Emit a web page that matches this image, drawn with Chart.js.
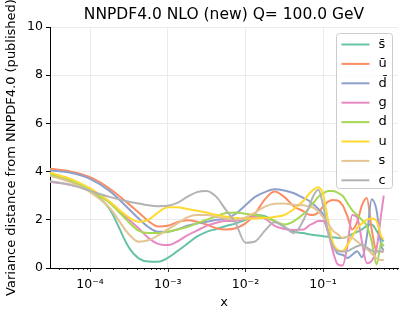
<!DOCTYPE html>
<html>
<head>
<meta charset="utf-8">
<script src="https://cdn.jsdelivr.net/npm/chart.js@4"></script>
<style>
  html, body { margin: 0; padding: 0; background: #fff; }
  #wrap { width: 407px; height: 315px; }
</style>
</head>
<body>
<div id="wrap"><canvas id="chart" width="407" height="315"></canvas></div>
<script>
// x positions (log spaced)
const xValues = [3.05e-5, 5.62e-5, 1.0e-4, 1.78e-4, 3.16e-4, 4.22e-4, 5.62e-4, 7.5e-4, 1.0e-3, 1.33e-3,
  1.78e-3, 2.37e-3, 3.16e-3, 4.22e-3, 5.62e-3, 7.5e-3, 0.01, 0.0133, 0.0178, 0.0237,
  0.0316, 0.0422, 0.0562, 0.0649, 0.075, 0.0866, 0.1, 0.1155, 0.1334, 0.154,
  0.178, 0.205, 0.237, 0.274, 0.316, 0.365, 0.422, 0.487, 0.562, 0.603];

const sbar = [3.88, 3.6, 3.2, 2.45, 0.85, 0.4, 0.27, 0.26, 0.42, 0.7,
  1.0, 1.3, 1.5, 1.62, 1.74, 1.85, 2.0, 2.2, 2.15, 1.95,
  1.7, 1.5, 1.45, 1.4, 1.37, 1.35, 1.32, 1.3, 1.28, 1.25,
  1.24, 1.3, 1.4, 1.5, 1.6, 1.75, 1.8, 1.55, 1.2, 1.1];
const ubar = [4.12, 4.0, 3.77, 3.3, 2.65, 2.3, 1.95, 1.72, 1.75, 1.9,
  1.98, 1.92, 1.8, 1.65, 1.6, 1.65, 1.85, 2.25, 2.85, 3.17,
  2.95, 2.55, 2.35, 2.22, 2.2, 2.3, 2.55, 2.75, 2.82, 2.8,
  2.6, 2.15, 1.6, 1.9, 2.6, 2.9, 1.6, 0.7, 0.68, 0.7];
const dbar = [4.05, 3.95, 3.7, 3.2, 2.45, 2.05, 1.7, 1.5, 1.5, 1.6,
  1.75, 1.85, 1.92, 2.0, 2.05, 2.25, 2.6, 2.95, 3.15, 3.27,
  3.22, 3.1, 2.9, 2.8, 2.65, 2.45, 2.2, 1.55, 0.95, 0.6,
  0.55, 0.42, 0.55, 0.7, 0.45, 1.3, 2.85, 2.4, 0.9, 0.75];
const gluon = [3.58, 3.45, 3.2, 2.75, 2.0, 1.65, 1.25, 1.0, 0.95, 1.1,
  1.35, 1.55, 1.75, 1.88, 1.95, 1.95, 2.05, 2.12, 2.05, 1.75,
  1.62, 1.58, 1.6, 1.75, 1.85, 1.95, 1.95, 1.5, 0.7, 0.15,
  0.1, 0.9, 2.2, 2.1, 1.1, 0.2, 0.3, 0.8, 2.3, 3.0];
const dquark = [3.9, 3.62, 3.2, 2.7, 1.9, 1.55, 1.45, 1.45, 1.5, 1.6,
  1.7, 1.85, 2.0, 2.15, 2.28, 2.3, 2.25, 2.2, 2.1, 1.95,
  1.8, 1.95, 2.25, 2.45, 2.7, 2.95, 3.1, 3.2, 3.2, 3.12,
  3.0, 2.7, 2.4, 2.2, 2.0, 1.75, 1.1, 0.15, 1.05, 0.9];
const uquark = [3.95, 3.7, 3.3, 2.75, 2.1, 1.92, 2.0, 2.3, 2.52, 2.52,
  2.45, 2.38, 2.3, 2.2, 2.13, 2.08, 2.05, 2.05, 2.08, 2.12,
  2.2, 2.45, 2.8, 3.05, 3.25, 3.35, 3.05, 2.0, 1.05, 0.75,
  0.7, 0.95, 1.3, 1.65, 1.85, 2.0, 2.05, 1.95, 1.3, 1.2];
const squark = [3.83, 3.55, 3.15, 2.5, 1.4, 1.09, 1.15, 1.35, 1.6, 1.85,
  2.1, 2.2, 2.2, 2.12, 2.05, 2.0, 2.1, 2.3, 2.55, 2.67,
  2.68, 2.62, 2.6, 2.55, 2.5, 2.35, 2.1, 1.85, 1.55, 1.4,
  1.25, 1.3, 1.25, 1.1, 0.95, 0.8, 0.6, 0.4, 0.33, 0.33];
const cquark = [3.6, 3.45, 3.2, 2.95, 2.75, 2.68, 2.6, 2.56, 2.58, 2.7,
  2.95, 3.15, 3.2, 2.95, 2.4, 1.85, 1.05, 1.1, 1.55, 1.9,
  1.72, 1.45, 2.0, 2.5, 3.0, 3.25, 2.6, 1.5, 0.9, 0.7,
  0.68, 0.7, 0.8, 0.9, 0.95, 0.85, 0.72, 0.68, 0.68, 0.68];

const seriesLabels = ["s\u0304", "\u016b", "d\u0304", "g", "d", "u", "s", "c"];
const seriesData = [sbar, ubar, dbar, gluon, dquark, uquark, squark, cquark];
const seriesColors = ["#66c2a5", "#fc8d62", "#8da0cb", "#e78ac3", "#a6d854", "#ffd92f", "#e5c494", "#b3b3b3"];

const yTicks = [0, 2, 4, 6, 8, 10];
const titleText = "NNPDF4.0 NLO (new) Q= 100.0 GeV";
const supers = { "-": "\u207b", "0": "\u2070", "1": "\u00b9", "2": "\u00b2", "3": "\u00b3", "4": "\u2074", "5": "\u2075" };

Chart.defaults.font.family = "'DejaVu Sans', sans-serif";
Chart.defaults.color = "#000";

function isDecade(v) {
  const l = Math.log10(v);
  return Math.abs(l - Math.round(l)) < 1e-6;
}

// title centred over the plot area, like matplotlib's axes title
const axesTitle = {
  id: "axesTitle",
  afterDraw(chart) {
    const { ctx, chartArea } = chart;
    ctx.save();
    ctx.font = "15.5px 'DejaVu Sans'";
    ctx.fillStyle = "#000";
    ctx.textAlign = "center";
    ctx.textBaseline = "middle";
    ctx.fillText(titleText, (chartArea.left + chartArea.right) / 2, 15);
    ctx.restore();
  },
};

const minorTicks = {
  id: "minorTicks",
  afterDraw(chart) {
    const { ctx, chartArea, scales } = chart;
    const sx = scales.x;
    ctx.save();
    ctx.strokeStyle = "#000";
    ctx.lineWidth = 0.8;
    for (let e = -5; e <= 0; e++) {
      for (let k = 1; k <= 9; k++) {
        const v = k * Math.pow(10, e);
        if (v < sx.min || v > sx.max) continue;
        const px = Math.round(sx.getPixelForValue(v)) + 0.5;
        const len = k === 1 ? 4 : 2;
        ctx.beginPath();
        ctx.moveTo(px, chartArea.bottom);
        ctx.lineTo(px, chartArea.bottom + len);
        ctx.stroke();
      }
    }
    ctx.restore();
  },
};

const boxLegend = {
  id: "boxLegend",
  afterDraw(chart) {
    const { ctx, chartArea } = chart;
    const w = 56, h = 155;
    const x0 = chartArea.right - 6 - w + 0.5;
    const y0 = chartArea.top + 6 + 0.5;
    ctx.save();
    ctx.beginPath();
    ctx.roundRect(x0, y0, w, h, 3);
    ctx.fillStyle = "rgba(255,255,255,0.8)";
    ctx.fill();
    ctx.strokeStyle = "#cccccc";
    ctx.lineWidth = 1;
    ctx.stroke();
    ctx.font = "13px 'DejaVu Sans'";
    ctx.textBaseline = "middle";
    ctx.textAlign = "left";
    chart.data.datasets.forEach((ds, i) => {
      const y = y0 + 11 + i * 19.4;
      ctx.strokeStyle = ds.borderColor;
      ctx.lineWidth = 2;
      ctx.beginPath();
      ctx.moveTo(x0 + 5, y);
      ctx.lineTo(x0 + 33, y);
      ctx.stroke();
      ctx.fillStyle = "#000";
      ctx.fillText(ds.label, x0 + 42, y);
    });
    ctx.restore();
  },
};

new Chart(document.getElementById("chart"), {
  type: "line",
  data: {
    datasets: seriesData.map((vals, i) => ({
      label: seriesLabels[i],
      data: xValues.map((x, j) => ({ x: x, y: vals[j] })),
      borderColor: seriesColors[i],
      borderWidth: 2,
      pointRadius: 0,
      fill: false,
      cubicInterpolationMode: "monotone",
      order: seriesData.length - i,
    })),
  },
  options: {
    responsive: false,
    animation: false,
    layout: { padding: { left: 0, right: 9, top: 27, bottom: 0 } },
    plugins: {
      legend: { display: false },
      tooltip: { enabled: false },
      title: { display: false },
    },
    scales: {
      x: {
        type: "logarithmic",
        min: 3.05e-5,
        max: 0.92,
        afterFit: (s) => { s.height = 47; },
        border: { color: "#000", width: 1 },
        grid: {
          drawTicks: false,
          color: (c) => (c.tick && isDecade(c.tick.value) ? "#ebebeb" : "rgba(0,0,0,0)"),
        },
        ticks: {
          autoSkip: false,
          maxRotation: 0,
          padding: 9,
          font: { size: 12.5 },
          callback: (v) => {
            if (!isDecade(v)) return "";
            const e = String(Math.round(Math.log10(v)));
            return "10" + e.split("").map((ch) => supers[ch]).join("");
          },
        },
        title: { display: true, text: "x", font: { size: 13 }, padding: { top: 4, bottom: 5 } },
      },
      y: {
        min: 0,
        max: 10,
        afterFit: (s) => { s.width = 50; },
        afterBuildTicks: (s) => { s.ticks = yTicks.map((v) => ({ value: v })); },
        border: { color: "#000", width: 1 },
        grid: { color: "#ebebeb", tickColor: "#000", tickLength: 4 },
        ticks: { font: { size: 12.5 }, padding: 3 },
        title: {
          display: true,
          text: "Variance distance from NNPDF4.0 (published)",
          font: { size: 13 },
          padding: { top: 4, bottom: 0 },
        },
      },
    },
  },
  plugins: [minorTicks, boxLegend, axesTitle],
});
</script>
</body>
</html>
